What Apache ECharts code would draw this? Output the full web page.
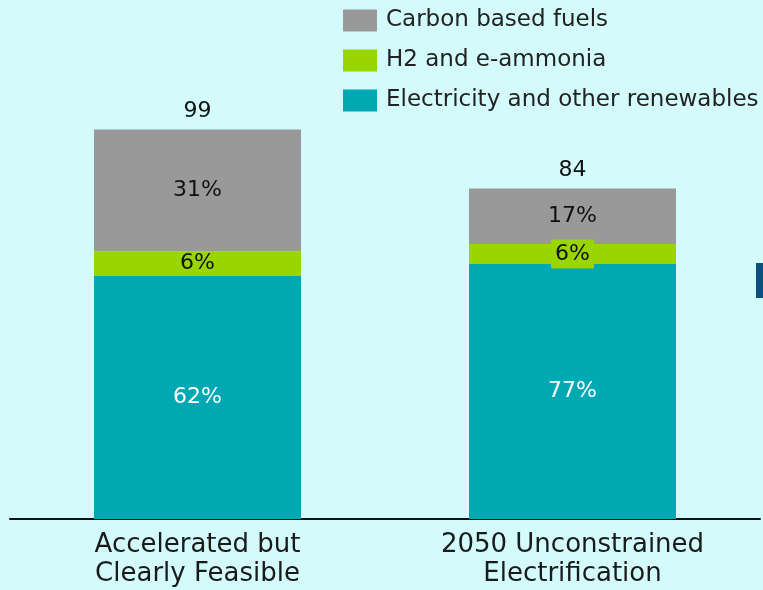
<!DOCTYPE html>
<html>
<head>
<meta charset="utf-8">
<script src="https://cdn.jsdelivr.net/npm/echarts@6/dist/echarts.min.js"></script>
<style>
  html, body { margin: 0; padding: 0; background: #d4fbfb; }
  #ct1 { width: 763px; height: 590px; }
</style>
</head>
<body>
<div id="ct1"></div>
<script>
// data
var categories = ['Accelerated but\nClearly Feasible', '2050 Unconstrained\nElectrification'];
var totals = [99, 84];
var electricity = [61.8, 64.8];
var h2 = [6.3, 5.1];
var carbon = [30.9, 14.1];
var electricityPct = ['62%', '77%'];
var h2Pct = ['6%', '6%'];
var carbonPct = ['31%', '17%'];

window.onload = function () {
    var myChart = echarts.init(document.getElementById('ct1'));
    var font = 'DejaVu Sans';

    function pctLabel(arr, color) {
        return {
            show: true,
            position: 'inside',
            fontFamily: font,
            fontSize: 22,
            color: color,
            formatter: function (p) { return arr[p.dataIndex]; }
        };
    }

    // the thin green segment of the 2nd bar gets a label box that overflows it
    var h2Data = h2.map(function (v, i) {
        if (i === 1) {
            return { value: v, label: { backgroundColor: '#99d600', padding: [4, 4, 3, 4] } };
        }
        return v;
    });

    var option = {
        backgroundColor: '#d4fbfb',
        animation: false,
        legend: {
            orient: 'vertical',
            left: 343,
            top: 9,
            padding: 0,
            itemWidth: 34,
            itemHeight: 22,
            itemGap: 17,
            icon: 'rect',
            textStyle: { fontFamily: font, fontSize: 23, color: '#222', padding: [0, 0, 0, 4] },
            data: ['Carbon based fuels', 'H2 and e-ammonia', 'Electricity and other renewables']
        },
        grid: { left: 10, right: 3, top: 47, bottom: 71 },
        xAxis: {
            type: 'category',
            data: categories,
            axisLine: { lineStyle: { color: '#111', width: 2 } },
            axisTick: { show: false },
            axisLabel: { fontFamily: font, fontSize: 26, color: '#1a1a1a', lineHeight: 29, margin: 12 }
        },
        yAxis: {
            type: 'value', min: 0, max: 120, show: false,
            splitLine: { show: false }
        },
        series: [
            {
                name: 'Electricity and other renewables', type: 'bar', stack: 'a',
                barWidth: 207, itemStyle: { color: '#00a8b4' },
                label: pctLabel(electricityPct, '#fff'),
                data: electricity
            },
            {
                name: 'H2 and e-ammonia', type: 'bar', stack: 'a',
                itemStyle: { color: '#99d600' },
                label: pctLabel(h2Pct, '#111'),
                data: h2Data
            },
            {
                name: 'Carbon based fuels', type: 'bar', stack: 'a',
                itemStyle: { color: '#999999' },
                label: pctLabel(carbonPct, '#111'),
                data: carbon
            },
            {
                name: 'total', type: 'bar', barGap: '-100%', barWidth: 207,
                itemStyle: { color: 'transparent' },
                silent: true,
                label: {
                    show: true, position: 'top', distance: 7,
                    fontFamily: font, fontSize: 22, color: '#111'
                },
                data: totals
            }
        ],
        graphic: [
            { type: 'rect', left: 756, top: 263, shape: { width: 8, height: 35 }, style: { fill: '#0c4f7e' } }
        ]
    };

    myChart.setOption(option);
};
</script>
</body>
</html>
